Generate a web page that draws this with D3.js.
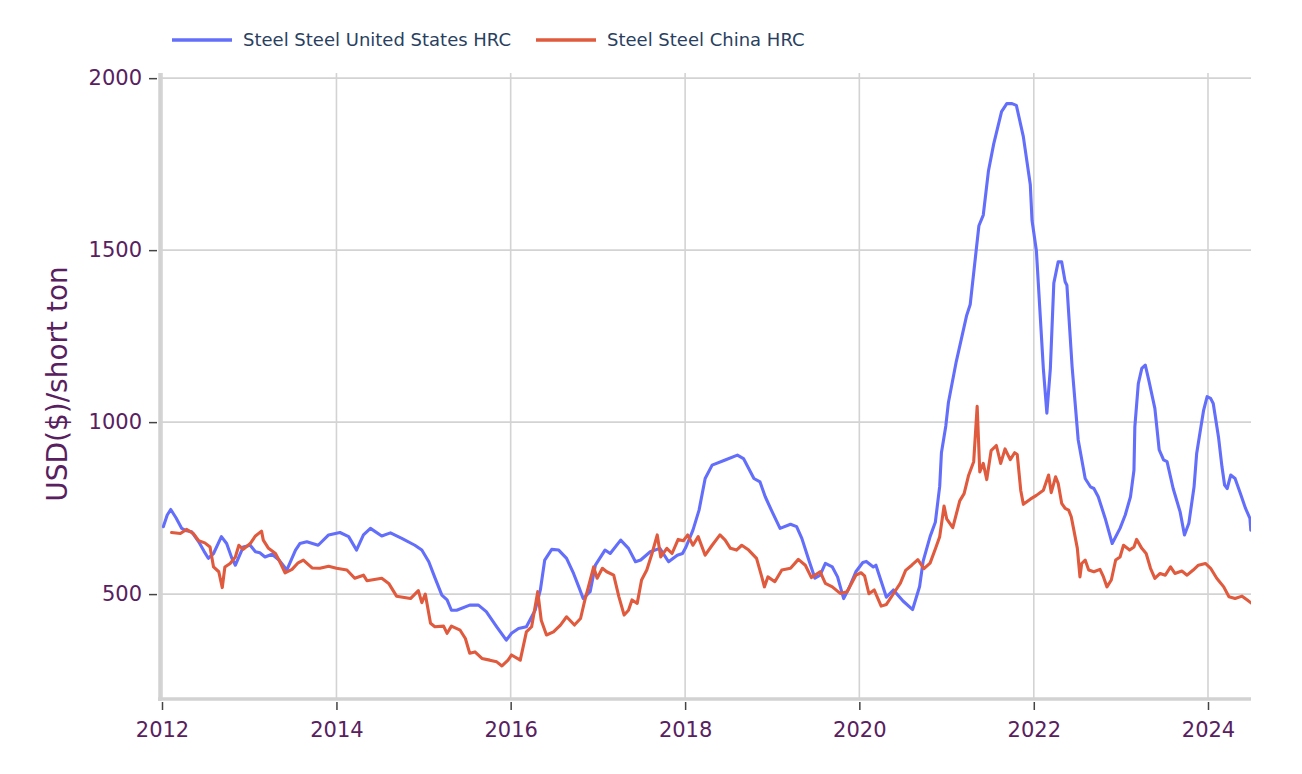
<!DOCTYPE html>
<html>
<head>
<meta charset="utf-8">
<script src="https://cdn.jsdelivr.net/npm/d3@7"></script>
<style>
  html, body { margin: 0; padding: 0; background: #fff; }
  svg { display: block; }
</style>
</head>
<body>
<svg id="chart" width="1302" height="774"></svg>
<script>
// ---------- DATA (decimal year, USD per short ton) ----------
const seriesNames = ["Steel Steel United States HRC", "Steel Steel China HRC"];
const seriesColors = ["#636efa", "#e05a3e"];
const yTickValues = [500, 1000, 1500, 2000];
const xTickYears = [2012, 2014, 2016, 2018, 2020, 2022, 2024];

const usYears = [2012.015,2012.06,2012.10,2012.16,2012.226,2012.28,2012.34,2012.42,2012.48,2012.53,2012.59,2012.68,2012.74,2012.80,2012.84,2012.93,2013.01,2013.07,2013.12,2013.18,2013.26,2013.34,2013.43,2013.53,2013.58,2013.66,2013.79,2013.91,2014.04,2014.14,2014.23,2014.31,2014.39,2014.52,2014.62,2014.75,2014.90,2014.98,2015.06,2015.13,2015.21,2015.27,2015.32,2015.38,2015.53,2015.63,2015.72,2015.84,2015.95,2016.01,2016.09,2016.18,2016.28,2016.34,2016.39,2016.47,2016.55,2016.64,2016.72,2016.78,2016.83,2016.91,2016.97,2017.08,2017.14,2017.26,2017.35,2017.43,2017.49,2017.60,2017.71,2017.81,2017.91,2017.97,2018.01,2018.09,2018.16,2018.23,2018.31,2018.46,2018.60,2018.67,2018.73,2018.79,2018.86,2018.92,2018.99,2019.09,2019.21,2019.28,2019.34,2019.42,2019.49,2019.55,2019.61,2019.69,2019.75,2019.82,2019.88,2019.96,2020.04,2020.08,2020.16,2020.19,2020.31,2020.39,2020.50,2020.61,2020.69,2020.73,2020.81,2020.87,2020.92,2020.94,2020.99,2021.02,2021.11,2021.23,2021.27,2021.37,2021.42,2021.48,2021.54,2021.63,2021.69,2021.75,2021.80,2021.88,2021.96,2021.98,2022.03,2022.11,2022.15,2022.19,2022.23,2022.28,2022.32,2022.36,2022.38,2022.44,2022.51,2022.59,2022.65,2022.69,2022.74,2022.82,2022.90,2022.99,2023.05,2023.11,2023.15,2023.16,2023.20,2023.24,2023.28,2023.32,2023.39,2023.44,2023.49,2023.53,2023.60,2023.68,2023.73,2023.78,2023.84,2023.87,2023.90,2023.95,2023.99,2024.03,2024.06,2024.12,2024.16,2024.19,2024.22,2024.26,2024.31,2024.37,2024.43,2024.48,2024.49];
const usValues = [696,730,746,722,691,684,681,652,625,604,618,667,647,604,584,637,642,623,620,608,616,599,570,628,647,652,642,672,679,667,628,672,691,669,678,662,642,628,594,548,497,483,453,453,468,468,449,405,366,386,400,405,453,512,599,630,628,604,560,521,487,507,584,628,618,657,633,594,599,623,633,594,613,618,637,686,744,836,875,890,904,894,865,836,826,783,744,691,703,696,662,599,546,555,589,579,550,487,517,565,592,595,579,584,491,512,480,455,522,595,667,709,813,911,989,1057,1176,1311,1342,1571,1602,1731,1809,1903,1926,1926,1921,1830,1690,1586,1498,1155,1026,1155,1404,1466,1466,1408,1398,1161,948,836,812,807,783,720,647,691,730,783,860,986,1112,1156,1166,1122,1040,919,890,885,807,739,672,706,812,909,957,1035,1074,1069,1054,957,870,817,807,846,836,793,749,720,686];

const cnYears = [2012.11,2012.21,2012.28,2012.36,2012.42,2012.49,2012.55,2012.59,2012.65,2012.69,2012.72,2012.78,2012.84,2012.88,2012.93,2013.01,2013.07,2013.14,2013.16,2013.22,2013.30,2013.35,2013.41,2013.49,2013.56,2013.62,2013.72,2013.81,2013.91,2014.00,2014.12,2014.21,2014.31,2014.35,2014.52,2014.60,2014.69,2014.85,2014.94,2014.98,2015.02,2015.08,2015.13,2015.23,2015.27,2015.32,2015.42,2015.48,2015.53,2015.59,2015.67,2015.76,2015.84,2015.90,2015.97,2016.01,2016.11,2016.18,2016.24,2016.31,2016.35,2016.41,2016.49,2016.57,2016.64,2016.73,2016.80,2016.85,2016.89,2016.95,2016.99,2017.05,2017.10,2017.18,2017.24,2017.30,2017.35,2017.39,2017.45,2017.50,2017.56,2017.62,2017.68,2017.72,2017.79,2017.85,2017.92,2017.98,2018.03,2018.09,2018.15,2018.23,2018.31,2018.40,2018.46,2018.52,2018.59,2018.65,2018.73,2018.82,2018.88,2018.91,2018.95,2019.03,2019.11,2019.21,2019.30,2019.38,2019.45,2019.55,2019.61,2019.69,2019.78,2019.86,2019.96,2020.02,2020.06,2020.11,2020.17,2020.25,2020.31,2020.39,2020.47,2020.53,2020.60,2020.67,2020.74,2020.81,2020.87,2020.92,2020.97,2021.00,2021.07,2021.15,2021.20,2021.25,2021.31,2021.35,2021.38,2021.42,2021.46,2021.51,2021.57,2021.62,2021.67,2021.73,2021.78,2021.81,2021.85,2021.88,2021.96,2022.03,2022.11,2022.17,2022.20,2022.25,2022.28,2022.32,2022.36,2022.40,2022.43,2022.46,2022.50,2022.53,2022.55,2022.59,2022.63,2022.69,2022.76,2022.80,2022.84,2022.89,2022.94,2022.99,2023.03,2023.10,2023.15,2023.18,2023.24,2023.29,2023.34,2023.39,2023.45,2023.51,2023.57,2023.62,2023.70,2023.76,2023.83,2023.89,2023.97,2024.03,2024.10,2024.18,2024.24,2024.31,2024.39,2024.45,2024.50];
const cnValues = [679,676,688,676,655,649,637,579,565,519,579,589,608,642,630,647,669,683,657,633,618,594,562,572,591,599,576,575,581,575,570,546,555,539,546,531,494,487,510,475,500,415,405,407,386,407,395,371,328,332,313,308,303,291,308,323,308,390,405,507,424,381,390,410,434,410,429,483,521,579,546,575,565,555,492,439,453,483,473,541,570,618,672,608,633,618,659,655,672,642,667,613,642,672,657,633,628,642,628,604,550,521,550,536,570,575,601,584,548,565,531,521,502,507,555,562,553,501,512,465,470,501,532,569,584,600,574,590,631,667,756,719,693,771,792,844,885,1046,855,880,833,917,932,880,922,891,911,906,802,761,776,787,802,846,795,841,822,764,749,744,725,686,633,550,589,599,570,565,572,550,521,541,599,608,642,628,637,659,633,618,575,546,560,555,579,560,567,555,570,584,589,575,546,521,492,487,494,483,473];

// ---------- HELPERS ----------
function toDate(yv) {
  const yr = Math.floor(yv);
  const s = new Date(yr, 0, 1), e = new Date(yr + 1, 0, 1);
  return new Date(+s + (yv - yr) * (e - s));
}

const svg = d3.select("#chart");
const plotL = 160, plotR = 1251, plotT = 73, plotB = 699;
const tickColor = "#58205f";
const gridColor = "#d3d3d3";
const font = "'DejaVu Sans', Verdana, sans-serif";

// x scale: 2012 -> 162, 2024 -> 1208
const xBase = d3.scaleTime().domain([new Date(2012,0,1), new Date(2024,0,1)]).range([162, 1208]);
const x = d3.scaleTime().domain([xBase.invert(plotL), xBase.invert(plotR)]).range([plotL, plotR]);
const y = d3.scaleLinear().domain([195, 2015]).range([plotB, plotT]);

// gridlines
const grid = svg.append("g");
grid.selectAll("line.h").data(yTickValues).join("line").attr("class", "h")
  .attr("x1", plotL).attr("x2", plotR)
  .attr("y1", d => y(d)).attr("y2", d => y(d))
  .attr("stroke", gridColor).attr("stroke-width", 1.6);
grid.selectAll("line.v").data(xTickYears).join("line").attr("class", "v")
  .attr("x1", d => x(new Date(d,0,1))).attr("x2", d => x(new Date(d,0,1)))
  .attr("y1", plotT).attr("y2", plotB)
  .attr("stroke", gridColor).attr("stroke-width", 1.6);

// clip
svg.append("clipPath").attr("id", "clip").append("rect")
  .attr("x", plotL).attr("y", plotT - 5).attr("width", plotR - plotL).attr("height", plotB - plotT + 5);

// lines
const line = d3.line().x(d => x(d[0])).y(d => y(d[1]));
const seriesData = [
  usYears.map((t, i) => [toDate(t), usValues[i]]),
  cnYears.map((t, i) => [toDate(t), cnValues[i]])
];
svg.append("g").attr("clip-path", "url(#clip)")
  .selectAll("path").data(seriesData).join("path")
  .attr("d", line)
  .attr("fill", "none")
  .attr("stroke", (d, i) => seriesColors[i])
  .attr("stroke-width", 3.1)
  .attr("stroke-linejoin", "round")
  .attr("stroke-linecap", "round");

// axis lines
svg.append("line").attr("x1", plotL).attr("x2", plotL).attr("y1", plotT).attr("y2", plotB + 2)
  .attr("stroke", "#d2d2d2").attr("stroke-width", 3.5);
svg.append("line").attr("x1", plotL - 2).attr("x2", plotR).attr("y1", plotB).attr("y2", plotB)
  .attr("stroke", "#d2d2d2").attr("stroke-width", 3.5);

// y axis
const yAxis = svg.append("g").attr("transform", `translate(157,0)`)
  .call(d3.axisLeft(y).tickValues(yTickValues).tickSize(8).tickPadding(7).tickFormat(d3.format("d")));
yAxis.select(".domain").remove();
yAxis.selectAll(".tick line").attr("stroke", "#444").attr("stroke-width", 1.5);
yAxis.selectAll(".tick text").attr("fill", tickColor).style("font-family", font).style("font-size", "21px");

// x axis
const xAxis = svg.append("g").attr("transform", `translate(0,702)`)
  .call(d3.axisBottom(x).tickValues(xTickYears.map(v => new Date(v,0,1))).tickSize(8).tickPadding(12).tickFormat(d3.timeFormat("%Y")));
xAxis.select(".domain").remove();
xAxis.selectAll(".tick line").attr("stroke", "#444").attr("stroke-width", 1.5);
xAxis.selectAll(".tick text").attr("fill", tickColor).style("font-family", font).style("font-size", "21px");

// y title
svg.append("text")
  .attr("transform", "translate(67,384) rotate(-90)")
  .attr("text-anchor", "middle")
  .attr("fill", tickColor)
  .style("font-family", font).style("font-size", "28px")
  .text("USD($)/short ton");

// legend
const legendX = [172, 536];
const lg = svg.append("g").selectAll("g").data(seriesNames).join("g")
  .attr("transform", (d, i) => `translate(${legendX[i]},40)`);
lg.append("line").attr("x1", 0).attr("x2", 60).attr("y1", 0).attr("y2", 0)
  .attr("stroke", (d, i) => seriesColors[i]).attr("stroke-width", 3.5);
lg.append("text").attr("x", 71).attr("y", 0).attr("dy", "0.36em")
  .attr("fill", "#2a3f5f").style("font-family", font).style("font-size", "18px")
  .text(d => d);
</script>
</body>
</html>
